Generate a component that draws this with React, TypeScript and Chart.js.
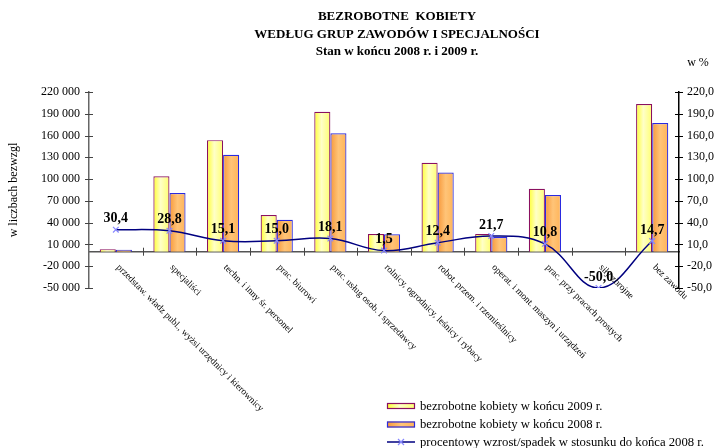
import { useEffect, useRef } from 'react';
import Chart from 'chart.js/auto';

const categories = [
  'przedstaw. władz publ., wyżsi urzędnicy i kierownicy',
  'specjaliści',
  'techn. i inny śr. personel',
  'prac. biurowi',
  'prac. usług osob. i sprzedawcy',
  'rolnicy, ogrodnicy, leśnicy i rybacy',
  'robot. przem. i rzemieślnicy',
  'operat. i mont. maszyn i urządzeń',
  'prac. przy pracach prostych',
  'siły zbrojne',
  'bez zawodu',
];
const values2009 = [3500, 104000, 153700, 50500, 192700, 24300, 122500, 24500, 86700, 100, 203300];
const values2008 = [2700, 80700, 133500, 43900, 163200, 23950, 109000, 20100, 78200, 200, 177300];
const changePct = [30.4, 28.8, 15.1, 15.0, 18.1, 1.5, 12.4, 21.7, 10.8, -50.0, 14.7];
const titleLines = ['BEZROBOTNE  KOBIETY', 'WEDŁUG GRUP ZAWODÓW I SPECJALNOŚCI', 'Stan w końcu 2008 r. i 2009 r.'];
const legendLabels = [
  'bezrobotne kobiety w końcu 2009 r.',
  'bezrobotne kobiety w końcu 2008 r.',
  'procentowy wzrost/spadek w stosunku do końca 2008 r.',
];
const leftAxisTitle = 'w liczbach bezwzgl';
const rightAxisUnit = 'w %';

const SERIF = '"Liberation Serif", "Times New Roman", serif';
const YELLOW_STOPS: [number, string][] = [[0, '#ffff30'], [0.45, '#ffffc8'], [1, '#ffff70']];
const ORANGE_STOPS: [number, string][] = [[0, '#f7983a'], [0.5, '#ffc478'], [1, '#ffb458']];
const YELLOW_BORDER = '#8a1060';
const ORANGE_BORDER = '#2a2ae0';

function grad(ctx: CanvasRenderingContext2D, x0: number, x1: number, stops: [number, string][]) {
  const g = ctx.createLinearGradient(x0, 0, x1, 0);
  stops.forEach(([o, c]) => g.addColorStop(o, c));
  return g;
}

function fmtLeft(v: number) {
  const s = String(Math.abs(v)).replace(/\B(?=(\d{3})+(?!\d))/g, ' ');
  return (v < 0 ? '-' : '') + s;
}
function fmtPct(v: number) {
  return v.toFixed(1).replace('.', ',');
}

const decorPlugin = {
  id: 'decor',
  beforeDatasetsDraw(chart: any) {
    const ctx: CanvasRenderingContext2D = chart.ctx;
    [[0, YELLOW_STOPS], [1, ORANGE_STOPS]].forEach(([di, stops]: any) => {
      const meta = chart.getDatasetMeta(di);
      meta.data.forEach((el: any) => {
        const x0 = el.x - el.width / 2;
        const x1 = el.x + el.width / 2;
        if (!isFinite(x0) || !isFinite(x1) || x1 <= x0) return;
        el.options = { ...el.options, backgroundColor: grad(ctx, x0, x1, stops) };
      });
    });
  },
  afterDatasetsDraw(chart: any) {
    const ctx: CanvasRenderingContext2D = chart.ctx;
    const xs = chart.scales.x;
    const yl = chart.scales.y;
    const yr = chart.scales.y1;
    const zeroY = yl.getPixelForValue(0);
    ctx.save();
    ctx.lineWidth = 1;
    ctx.strokeStyle = '#444';
    for (let i = 1; i < categories.length; i++) {
      const x = Math.round(xs.getPixelForValue(i - 0.5)) + 0.5;
      ctx.beginPath();
      ctx.moveTo(x, zeroY - 4);
      ctx.lineTo(x, zeroY + 4);
      ctx.stroke();
    }
    yl.ticks.forEach((t: any) => {
      const y = Math.round(yl.getPixelForValue(t.value)) + 0.5;
      ctx.strokeStyle = '#444';
      ctx.beginPath();
      ctx.moveTo(yl.right - 4, y);
      ctx.lineTo(yl.right + 4, y);
      ctx.stroke();
    });
    yr.ticks.forEach((t: any) => {
      const y = Math.round(yr.getPixelForValue(t.value)) + 0.5;
      ctx.strokeStyle = '#000';
      ctx.beginPath();
      ctx.moveTo(yr.left - 4, y);
      ctx.lineTo(yr.left + 4, y);
      ctx.stroke();
    });

    const meta = chart.getDatasetMeta(2);
    ctx.fillStyle = '#000';
    ctx.font = `bold 14px ${SERIF}`;
    ctx.textAlign = 'center';
    ctx.textBaseline = 'middle';
    meta.data.forEach((p: any, i: number) => {
      ctx.fillText(fmtPct(changePct[i]), p.x, p.y - 11);
    });

    ctx.font = `9.5px ${SERIF}`;
    ctx.textAlign = 'left';
    ctx.textBaseline = 'middle';
    categories.forEach((lab, i) => {
      const cx = xs.getPixelForValue(i);
      ctx.save();
      ctx.translate(cx + 2, 266);
      ctx.rotate(Math.PI / 4);
      ctx.fillText(lab, 0, 0);
      ctx.restore();
    });
    ctx.restore();
  },
  afterDraw(chart: any) {
    const ctx: CanvasRenderingContext2D = chart.ctx;
    ctx.save();
    ctx.fillStyle = '#000';
    ctx.textAlign = 'center';
    ctx.textBaseline = 'middle';
    ctx.font = `bold 13px ${SERIF}`;
    titleLines.forEach((t, i) => ctx.fillText(t, 397, 17 + i * 17.5));
    ctx.font = `12px ${SERIF}`;
    ctx.fillText(rightAxisUnit, 698, 63);

    const lx = 387;
    const ys = [406, 424.5, 442];
    ctx.textAlign = 'left';
    ctx.font = `12.7px ${SERIF}`;
    ctx.fillStyle = grad(ctx, lx, lx + 28, YELLOW_STOPS);
    ctx.fillRect(lx, ys[0] - 3, 28, 6);
    ctx.strokeStyle = YELLOW_BORDER;
    ctx.lineWidth = 1.2;
    ctx.strokeRect(lx + 0.5, ys[0] - 3 + 0.5, 27, 5);
    ctx.fillStyle = grad(ctx, lx, lx + 28, ORANGE_STOPS);
    ctx.fillRect(lx, ys[1] - 3, 28, 6);
    ctx.strokeStyle = ORANGE_BORDER;
    ctx.strokeRect(lx + 0.5, ys[1] - 3 + 0.5, 27, 5);
    ctx.strokeStyle = '#000080';
    ctx.lineWidth = 1.5;
    ctx.beginPath();
    ctx.moveTo(lx, ys[2]);
    ctx.lineTo(lx + 28, ys[2]);
    ctx.stroke();
    ctx.strokeStyle = '#8888ff';
    ctx.lineWidth = 1.2;
    ctx.beginPath();
    ctx.moveTo(lx + 11, ys[2] - 3);
    ctx.lineTo(lx + 17, ys[2] + 3);
    ctx.moveTo(lx + 17, ys[2] - 3);
    ctx.lineTo(lx + 11, ys[2] + 3);
    ctx.stroke();
    ctx.fillStyle = '#000';
    legendLabels.forEach((t, i) => ctx.fillText(t, lx + 33, ys[i] + 0.5));
    ctx.restore();
  },
};

export default function App() {
  const ref = useRef<HTMLCanvasElement | null>(null);
  useEffect(() => {
    if (!ref.current) return;
    const chart = new Chart(ref.current, {
      data: {
        labels: categories,
        datasets: [
          {
            type: 'bar',
            label: legendLabels[0],
            data: values2009,
            yAxisID: 'y',
            backgroundColor: '#ffff80',
            borderColor: YELLOW_BORDER,
            borderWidth: 1.2,
            categoryPercentage: 0.6,
            barPercentage: 1.0,
            order: 1,
          },
          {
            type: 'bar',
            label: legendLabels[1],
            data: values2008,
            yAxisID: 'y',
            backgroundColor: '#ffb458',
            borderColor: ORANGE_BORDER,
            borderWidth: 1.2,
            categoryPercentage: 0.6,
            barPercentage: 1.0,
            order: 2,
          },
          {
            type: 'line',
            label: legendLabels[2],
            data: changePct,
            yAxisID: 'y1',
            borderColor: '#000080',
            borderWidth: 1.5,
            tension: 0.4,
            fill: false,
            pointStyle: 'crossRot',
            pointRadius: 4,
            pointBorderColor: '#8888ff',
            pointBackgroundColor: '#8888ff',
            pointBorderWidth: 1.2,
            order: 0,
          },
        ] as any,
      },
      options: {
        responsive: false,
        animation: false,
        layout: { padding: { top: 92, bottom: 160, left: 0, right: 0 } },
        plugins: {
          legend: { display: false },
          title: { display: false },
          tooltip: { enabled: false },
        },
        scales: {
          x: {
            type: 'category',
            position: { y: 0 } as any,
            offset: true,
            grid: { display: false, drawTicks: false },
            border: { display: true, color: '#555', width: 1.5 },
            ticks: { display: false },
          },
          y: {
            type: 'linear',
            position: 'left',
            min: -50000,
            max: 220000,
            grid: { display: false, drawTicks: false },
            border: { display: true, color: '#666', width: 1.5 },
            ticks: {
              stepSize: 30000,
              padding: 9,
              color: '#000',
              font: { family: SERIF, size: 12 },
              callback: (v: any) => fmtLeft(Number(v)),
            },
            title: {
              display: true,
              text: leftAxisTitle,
              color: '#000',
              font: { family: SERIF, size: 12 },
              padding: { top: 7, bottom: 0 },
            },
            afterFit: (s: any) => { s.width = 89; },
          },
          y1: {
            type: 'linear',
            position: 'right',
            min: -50,
            max: 220,
            grid: { display: false, drawTicks: false },
            border: { display: true, color: '#000', width: 1.5 },
            ticks: {
              stepSize: 30,
              padding: 8,
              color: '#000',
              font: { family: SERIF, size: 12 },
              callback: (v: any) => fmtPct(Number(v)),
            },
            afterFit: (s: any) => { s.width = 37; },
          },
        },
      },
      plugins: [decorPlugin],
    });
    return () => chart.destroy();
  }, []);
  return (
    <div style={{ position: 'absolute', left: 0, top: 0, width: 716, height: 448, background: '#fff' }}>
      <canvas ref={ref} width={716} height={448} style={{ display: 'block' }} />
    </div>
  );
}
